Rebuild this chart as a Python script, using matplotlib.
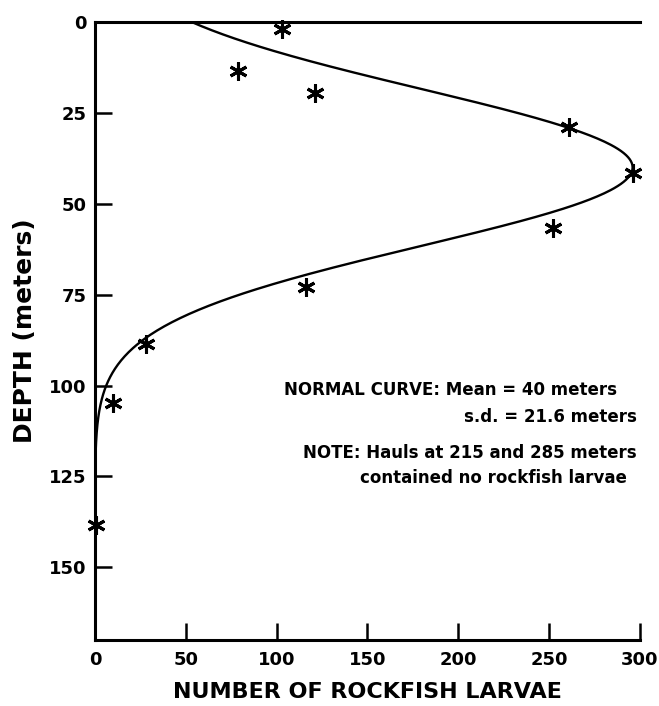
import numpy as np
import matplotlib
matplotlib.use("Agg")
import matplotlib.pyplot as plt

# Observed hauls
larvae = [103, 79, 121, 261, 296, 252, 116, 28, 10, 0.5]
depth = [1.8, 13.5, 19.5, 28.8, 41.5, 56.6, 72.8, 88.7, 104.7, 138.5]

# Normal curve parameters (from chart annotation)
MEAN = 40.0
SD = 21.6
PEAK = 296.0

x_ticks = [0, 50, 100, 150, 200, 250, 300]
y_ticks = [0, 25, 50, 75, 100, 125, 150]

plt.rcParams['font.family'] = ['DejaVu Sans']
plt.rcParams['font.weight'] = 'bold'

fig = plt.figure(figsize=(6.59, 7.06), dpi=100)
ax = fig.add_axes([0.144, 0.0935, 0.827, 0.8753])

d = np.linspace(0, 170, 600)
curve = PEAK * np.exp(-(d - MEAN) ** 2 / (2 * SD ** 2))
ax.plot(curve, d, color='black', lw=1.7, zorder=2)

ax.plot(larvae, depth, linestyle='none', marker=(6, 2, 0), markersize=13,
        markeredgewidth=2.2, color='black', clip_on=False, zorder=3)

ax.set_xlim(0, 300)
ax.set_ylim(170, 0)
ax.set_xticks(x_ticks)
ax.set_yticks(y_ticks)
ax.tick_params(axis='both', direction='in', length=12, width=1.8,
               labelsize=13, pad=6)
ax.tick_params(axis='x', pad=8)
for lab in ax.get_xticklabels() + ax.get_yticklabels():
    lab.set_fontweight('bold')

for s in ['left', 'top', 'bottom']:
    ax.spines[s].set_linewidth(2.2)
ax.spines['right'].set_visible(False)

ax.set_xlabel('NUMBER OF ROCKFISH LARVAE', fontsize=16, fontweight='bold',
              labelpad=9)
ax.set_ylabel('DEPTH (meters)', fontsize=18, fontweight='bold', labelpad=9)

fs = 12
ax.text(0.958, 0.4045, 'NORMAL CURVE: Mean = 40 meters', transform=ax.transAxes,
        ha='right', va='center', fontsize=fs, fontweight='bold')
ax.text(0.994, 0.361, 's.d. = 21.6 meters', transform=ax.transAxes,
        ha='right', va='center', fontsize=fs, fontweight='bold')
ax.text(0.994, 0.3026, 'NOTE: Hauls at 215 and 285 meters', transform=ax.transAxes,
        ha='right', va='center', fontsize=fs, fontweight='bold')
ax.text(0.976, 0.262, 'contained no rockfish larvae', transform=ax.transAxes,
        ha='right', va='center', fontsize=fs, fontweight='bold')

fig.savefig('out.png', dpi=100)
